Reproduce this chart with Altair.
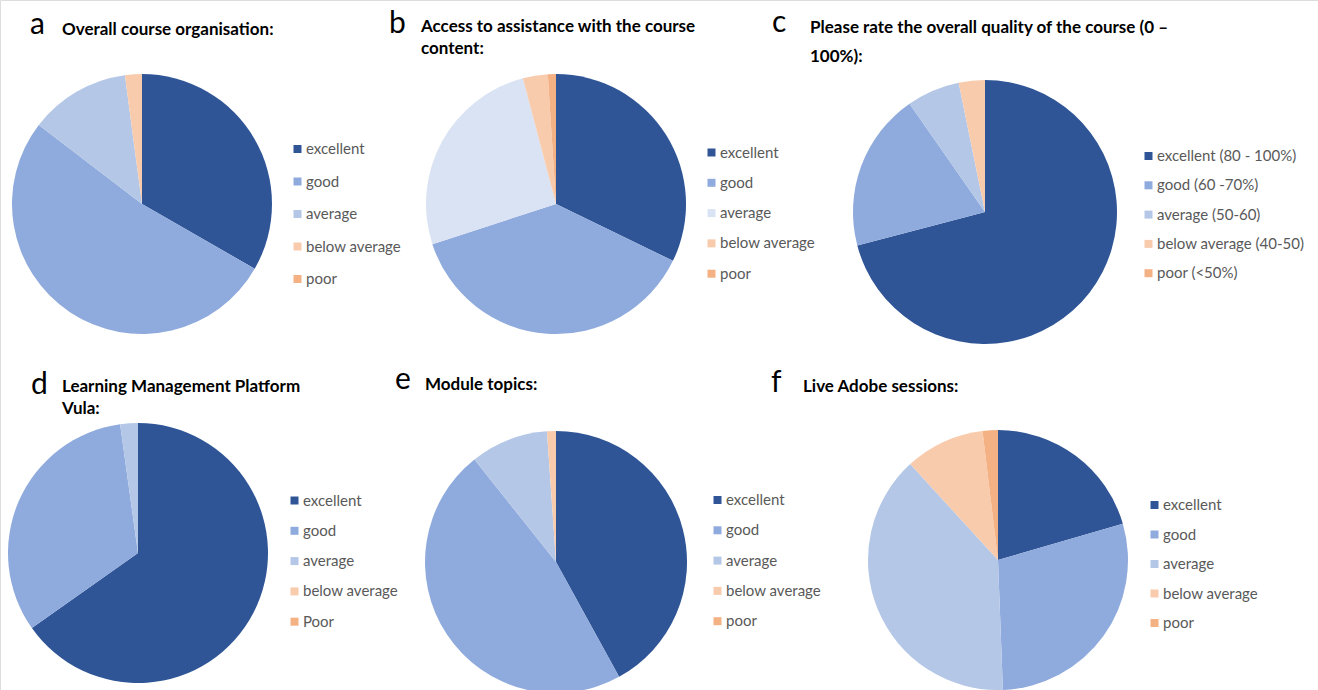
import altair as alt
import pandas as pd

# Answer categories and their colours
categories = ["excellent", "good", "average", "below average", "poor"]
quality_labels = [
    "excellent (80 - 100%)",
    "good (60 -70%)",
    "average (50-60)",
    "below average (40-50)",
    "poor (<50%)",
]
vula_labels = ["excellent", "good", "average", "below average", "Poor"]

palette = ["#2F5597", "#8FAADC", "#B4C7E7", "#F8CBAD", "#F4B183"]
palette_light_avg = ["#2F5597", "#8FAADC", "#DAE3F3", "#F8CBAD", "#F4B183"]

# Share of respondents (%) giving each answer
organisation = [33.3, 52.1, 12.5, 2.1, 0.0]
assistance = [32.2, 37.8, 25.9, 3.1, 1.0]
quality = [71.0, 19.4, 6.5, 3.2, 0.0]
vula = [65.2, 32.6, 2.2, 0.0, 0.0]
topics = [42.0, 47.3, 9.6, 1.1, 0.0]
adobe = [20.5, 28.9, 38.8, 9.9, 1.9]

letters = ["a", "b", "c", "d", "e", "f"]
titles = [
    "Overall course organisation:",
    "Access to assistance with the course\ncontent:",
    "Please rate the overall quality of the course (0 \u2013\n100%):",
    "Learning Management Platform\nVula:",
    "Module topics:",
    "Live Adobe sessions:",
]

panels = [
    dict(values=organisation, labels=categories, colors=palette,
         letter=(30, 34), title=(62, 35), lh=22, pie=(142, 204, 130),
         legend=(290, 141.5), row=16.5),
    dict(values=assistance, labels=categories, colors=palette_light_avg,
         letter=(389, 33), title=(421, 31.5), lh=22.5, pie=(556, 204, 130),
         legend=(704, 145), row=14.3),
    dict(values=quality, labels=quality_labels, colors=palette,
         letter=(772, 32), title=(810, 33), lh=28.5, pie=(985, 212, 132),
         legend=(1141, 148.5), row=13.3),
    dict(values=vula, labels=vula_labels, colors=palette,
         letter=(31, 394), title=(62, 391.5), lh=22.5, pie=(138, 553, 130),
         legend=(287, 493), row=14.3),
    dict(values=topics, labels=categories, colors=palette,
         letter=(395, 389), title=(425, 390), lh=22.5, pie=(556, 562, 131),
         legend=(710, 492.5), row=14.3),
    dict(values=adobe, labels=categories, colors=palette,
         letter=(771, 392), title=(803, 391.5), lh=22.5, pie=(998, 560, 130),
         legend=(1147, 497.5), row=13.5),
]

FONT = "Lato"
layers = []
for letter, title, p in zip(letters, titles, panels):
    df = pd.DataFrame({
        "answer": p["labels"],
        "share": p["values"],
        "rank": list(range(len(p["labels"]))),
    })
    cx, cy, r = p["pie"]
    lx, ly = p["legend"]
    pie = alt.Chart(df).mark_arc(radius=r).encode(
        x=alt.value(cx),
        y=alt.value(cy),
        theta=alt.Theta("share:Q", stack=True),
        order=alt.Order("rank:Q"),
        color=alt.Color(
            "answer:N",
            scale=alt.Scale(domain=p["labels"], range=p["colors"]),
            sort=p["labels"],
            legend=alt.Legend(
                title=None,
                orient="none",
                legendX=lx,
                legendY=ly,
                symbolType="square",
                symbolSize=64,
                symbolStrokeWidth=0,
                labelFont=FONT,
                labelFontSize=15,
                labelColor="#595959",
                labelOffset=1,
                rowPadding=p["row"],
                labelLimit=300,
            ),
        ),
    )
    layers.append(pie)

    letter_df = pd.DataFrame({"t": [letter]})
    layers.append(
        alt.Chart(letter_df).mark_text(
            font=FONT, fontSize=30, align="left", baseline="alphabetic", color="#000000"
        ).encode(x=alt.value(p["letter"][0]), y=alt.value(p["letter"][1]), text="t:N")
    )
    title_df = pd.DataFrame({"t": [title]})
    layers.append(
        alt.Chart(title_df).mark_text(
            font=FONT, fontSize=17, fontWeight="bold", align="left",
            baseline="alphabetic", lineBreak="\n", lineHeight=p["lh"], color="#000000"
        ).encode(x=alt.value(p["title"][0]), y=alt.value(p["title"][1]), text="t:N")
    )

chart = (
    alt.layer(*layers)
    .resolve_scale(theta="independent", color="independent")
    .properties(width=1318, height=690, autosize=alt.AutoSizeParams(type="none"), padding=0)
    .configure_view(stroke=None)
    .configure(background="white")
)

chart.save("out.html", embed_options={"renderer": "svg", "actions": False})
